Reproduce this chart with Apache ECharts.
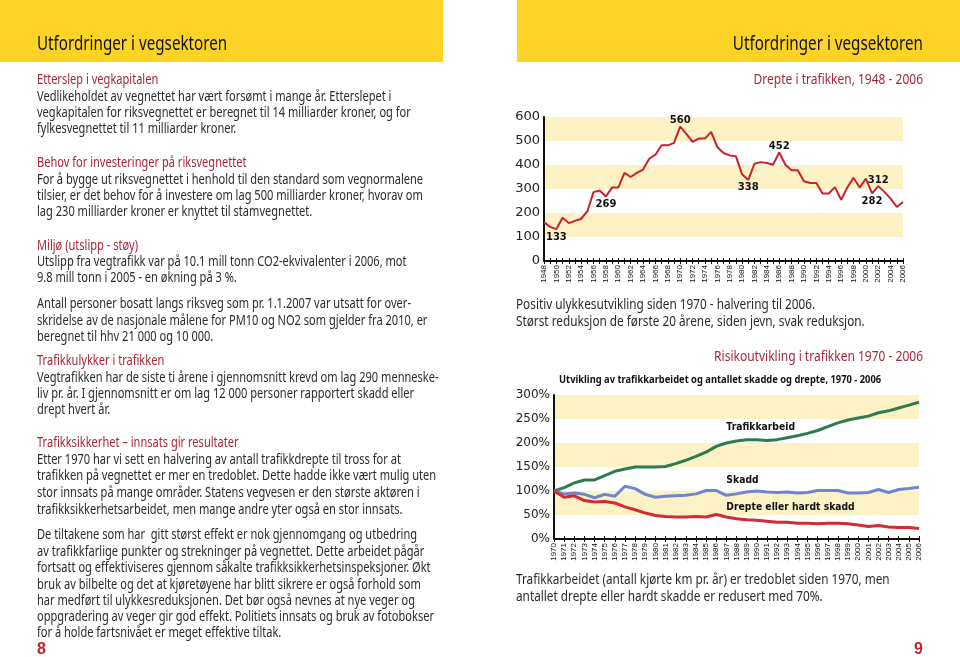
<!DOCTYPE html>
<html><head><meta charset="utf-8">
<script src="https://cdn.jsdelivr.net/npm/echarts@6/dist/echarts.min.js"></script>
<style>html,body{margin:0;padding:0;background:#fff}#c{width:960px;height:657px}</style>
</head><body><div id="c"></div>
<script>
// ---------- DATA ----------
const deathYears = ['1948','1949','1950','1951','1952','1953','1954','1955','1956','1957','1958','1959','1960','1961','1962','1963','1964','1965','1966','1967','1968','1969','1970','1971','1972','1973','1974','1975','1976','1977','1978','1979','1980','1981','1982','1983','1984','1985','1986','1987','1988','1989','1990','1991','1992','1993','1994','1995','1996','1997','1998','1999','2000','2001','2002','2003','2004','2005','2006'];
const deaths = [162,142,133,180,158,167,176,207,287,294, 269,306,306,367,350,367,381,426,443,482, 482,492,560,530,496,510,510,538,475,450, 440,437,361,338,405,412,408,401,452,401, 378,378,332,325,325,281,281,308,255,306, 347,306,343,282,312,288,260,225,246];
// labelled points: year -> label position
const deathLabels = {'1950':'bottom','1958':'bottom','1970':'top','1981':'bottom','1986':'top','2001':'bottom','2002':'top'};

const riskYears = ['1970','1971','1972','1973','1974','1975','1976','1977','1978','1979','1980','1981','1982','1983','1984','1985','1986','1987','1988','1989','1990','1991','1992','1993','1994','1995','1996','1997','1998','1999','2000','2001','2002','2003','2004','2005','2006'];
const trafikkarbeid = [100,107,117,123,123,132,141,146,150,150, 150,151,157,164,172,181,193,200,204,207, 207,205,207,211,215,220,226,234,242,248, 252,256,263,267,273,279,285];
const skadd = [100,94,96,93,86,93,89,110,105,93, 87,89,90,91,94,101,101,91,94,98, 100,98,97,98,96,97,101,101,101,96, 96,97,103,97,103,105,108];
const drepteHardtSkadd = [100,87,90,80,77,78,75,67,61,54, 49,47,46,46,47,46,51,46,42,40, 39,37,35,35,33,33,32,33,33,32, 29,26,28,25,24,24,22];
const seriesNames = ['Trafikkarbeid','Skadd','Drepte eller hardt skadd'];

const headerTitle = 'Utfordringer i vegsektoren';
const chart1Title = 'Drepte i trafikken, 1948 - 2006';
const chart2Title = 'Risikoutvikling i trafikken 1970 - 2006';
const chart2Sub = 'Utvikling av trafikkarbeidet og antallet skadde og drepte, 1970 - 2006';

// left column: [text, isHeading, centerY]
const leftLines = [
 ['Etterslep i vegkapitalen',1,80],
 ['Vedlikeholdet av vegnettet har vært forsømt i mange år. Etterslepet i',0,97],
 ['vegkapitalen for riksvegnettet er beregnet til 14 milliarder kroner, og for',0,113],
 ['fylkesvegnettet til 11 milliarder kroner.',0,129],
 ['Behov for investeringer på riksvegnettet',1,163],
 ['For å bygge ut riksvegnettet i henhold til den standard som vegnormalene',0,180],
 ['tilsier, er det behov for å investere om lag 500 milliarder kroner, hvorav om',0,196],
 ['lag 230 milliarder kroner er knyttet til stamvegnettet.',0,212],
 ['Miljø (utslipp - støy)',1,246],
 ['Utslipp fra vegtrafikk var på 10.1 mill tonn CO2-ekvivalenter i 2006, mot',0,262],
 ['9.8 mill tonn i 2005 - en økning på 3 %.',0,278],
 ['Antall personer bosatt langs riksveg som pr. 1.1.2007 var utsatt for over-',0,304],
 ['skridelse av de nasjonale målene for PM10 og NO2 som gjelder fra 2010, er',0,321],
 ['beregnet til hhv 21 000 og 10 000.',0,337],
 ['Trafikkulykker i trafikken',1,361],
 ['Vegtrafikken har de siste ti årene i gjennomsnitt krevd om lag 290 menneske-',0,378],
 ['liv pr. år. I gjennomsnitt er om lag 12 000 personer rapportert skadd eller',0,394],
 ['drept hvert år.',0,410],
 ['Trafikksikkerhet – innsats gir resultater',1,443],
 ['Etter 1970 har vi sett en halvering av antall trafikkdrepte til tross for at',0,460],
 ['trafikken på vegnettet er mer en tredoblet. Dette hadde ikke vært mulig uten',0,476],
 ['stor innsats på mange områder. Statens vegvesen er den største aktøren i',0,493],
 ['trafikksikkerhetsarbeidet, men mange andre yter også en stor innsats.',0,510],
 ['De tiltakene som har  gitt størst effekt er nok gjennomgang og utbedring',0,535],
 ['av trafikkfarlige punkter og strekninger på vegnettet. Dette arbeidet pågår',0,552],
 ['fortsatt og effektiviseres gjennom såkalte trafikksikkerhetsinspeksjoner. Økt',0,568],
 ['bruk av bilbelte og det at kjøretøyene har blitt sikrere er også forhold som',0,585],
 ['har medført til ulykkesreduksjonen. Det bør også nevnes at nye veger og',0,601],
 ['oppgradering av veger gir god effekt. Politiets innsats og bruk av fotobokser',0,617],
 ['for å holde fartsnivået er meget effektive tiltak.',0,633]
];
const rightLines = [
 ['Positiv ulykkesutvikling siden 1970 - halvering til 2006.',305],
 ['Størst reduksjon de første 20 årene, siden jevn, svak reduksjon.',322],
 ['Trafikkarbeidet (antall kjørte km pr. år) er tredoblet siden 1970, men',580],
 ['antallet drepte eller hardt skadde er redusert med 70%.',597]
];

// ---------- STYLE ----------
const YELLOW = '#fdd426', BAND = '#fcf2c6', RED = '#a3283a', TXT = '#2b2b2b';
const BODY = '"Noto Sans", "Open Sans", sans-serif';
const NARROW = 0.79;

const g = [];
g.push({type:'rect', shape:{x:0,y:0,width:443,height:62}, style:{fill:YELLOW}, silent:true});
g.push({type:'rect', shape:{x:517,y:0,width:443,height:62}, style:{fill:YELLOW}, silent:true});
function txt(t, x, y, font, fill, align, sx){
  g.push({type:'text', x:x, y:y, scaleX: sx||1, silent:true, z:10,
    style:{text:t, font:font, fill:fill, align:align||'left', verticalAlign:'middle'}});
}
txt(headerTitle, 37, 45, '19px '+BODY, '#111', 'left', 0.8);
txt(headerTitle, 923, 45, '19px '+BODY, '#111', 'right', 0.8);
leftLines.forEach(l => txt(l[0], 37, l[2], '14px '+BODY, l[1]?RED:TXT, 'left', NARROW));
rightLines.forEach(l => txt(l[0], 516, l[1], '15px '+BODY, TXT, 'left', 0.785));
txt(chart1Title, 923, 80, '15px '+BODY, RED, 'right', 0.8);
txt(chart2Title, 923, 357, '15px '+BODY, RED, 'right', 0.8);
txt(chart2Sub, 559, 380, 'bold 11px '+BODY, '#111', 'left', 0.85);
txt('8', 37, 650, 'bold 16px "Liberation Sans", sans-serif', '#c0262c', 'left');
txt('9', 923, 650, 'bold 16px "Liberation Sans", sans-serif', '#c0262c', 'right');

// ---------- CHART ----------
const axisLabelFont = '"DejaVu Sans", Verdana, sans-serif';
const deathMarks = deaths.map((v,i) => {
  const pos = deathLabels[deathYears[i]];
  return pos ? {coord:[deathYears[i], v], value:v,
    label:{position:pos, distance: pos==='top' ? 1 : 3}} : null;
}).filter(Boolean);

function xAxes(grid, data, every){
  return [{
    gridIndex:grid, type:'category', data:data, boundaryGap:false,
    axisLine:{lineStyle:{color:'#111', width:2}},
    axisTick:{interval:0, length:3, lineStyle:{color:'#111'}},
    axisLabel:{interval:every, rotate:90, fontSize:8, fontFamily:'"Liberation Sans", Arial, sans-serif', color:'#111', margin:4},
    splitLine:{show:false}
  },{
    gridIndex:grid, type:'category', data:data, boundaryGap:false, position:'bottom',
    axisLine:{show:false}, axisLabel:{show:false},
    axisTick:{inside:true, interval:0, length:3, lineStyle:{color:'#111'}}
  }];
}
const chart = echarts.init(document.getElementById('c'), null, {renderer:'canvas'});
chart.setOption({
  animation:false,
  graphic:{elements:g},
  grid:[
    {left:544, top:117, width:359, height:144},
    {left:554, top:395, width:365, height:144}
  ],
  xAxis:[...xAxes(0, deathYears, 1), ...xAxes(1, riskYears, 0)],
  yAxis:[
    {gridIndex:0, type:'value', min:0, max:600, interval:100,
     axisLine:{show:true, lineStyle:{color:'#111', width:2}}, axisTick:{show:false},
     axisLabel:{fontSize:13, fontFamily:axisLabelFont, color:'#222', margin:4},
     splitLine:{show:false}, splitArea:{show:true, areaStyle:{color:['rgba(255,255,255,0)', BAND]}}},
    {gridIndex:1, type:'value', min:0, max:300, interval:50,
     axisLine:{show:true, lineStyle:{color:'#111', width:2}}, axisTick:{show:false},
     axisLabel:{fontSize:12, fontFamily:axisLabelFont, color:'#222', margin:4, formatter:'{value}%'},
     splitLine:{show:false}, splitArea:{show:true, areaStyle:{color:['rgba(255,255,255,0)', BAND]}}}
  ],
  series:[
    {type:'line', xAxisIndex:0, yAxisIndex:0, data:deaths, symbol:'none', z:3,
     lineStyle:{color:'#c9222f', width:2},
     markPoint:{symbol:'circle', symbolSize:0, silent:true, data:deathMarks,
       label:{show:true, fontFamily:axisLabelFont, fontWeight:'bold', fontSize:10, color:'#111'}}},
    {type:'line', name:seriesNames[0], xAxisIndex:2, yAxisIndex:1, data:trafikkarbeid, symbol:'none',
     lineStyle:{color:'#2e7b50', width:3}},
    {type:'line', name:seriesNames[1], xAxisIndex:2, yAxisIndex:1, data:skadd, symbol:'none',
     lineStyle:{color:'#6f86c9', width:3}},
    {type:'line', name:seriesNames[2], xAxisIndex:2, yAxisIndex:1, data:drepteHardtSkadd, symbol:'none',
     lineStyle:{color:'#d42a31', width:3}}
  ]
});
// series name labels inside the lower chart, anchored at chart coordinates
const nameAnchors = [['1987',233],['1987',123],['1987',67]];
const extra = nameAnchors.map((a,i) => {
  const p = chart.convertToPixel({xAxisIndex:2, yAxisIndex:1}, a);
  return {type:'text', id:'nm'+i, x:p[0], y:p[1], scaleX:0.88, silent:true, z:20,
    style:{text:seriesNames[i], font:'bold 10.5px "DejaVu Sans", Verdana, sans-serif', fill:'#111', align:'left', verticalAlign:'middle'}};
});
chart.setOption({graphic:{elements:extra}});
</script></body></html>
